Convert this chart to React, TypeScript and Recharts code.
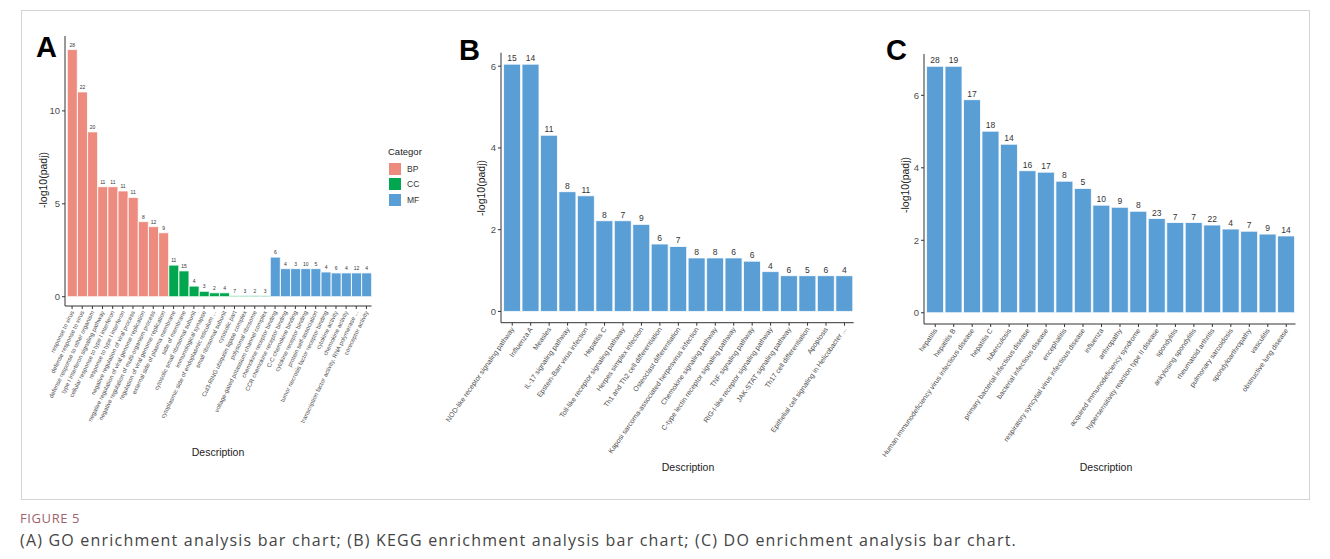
import React from "react";
import { Bar, BarChart, Cell, LabelList, XAxis, YAxis } from "recharts";

// GO terms (panel A)
const goTerms = [
  "response to virus",
  "defense response to virus",
  "defense response to other organism",
  "type I interferon signaling pathway",
  "cellular response to type I interferon",
  "response to type I interferon",
  "negative regulation of viral process",
  "negative regulation of viral genome replication",
  "negative regulation of multi-organism process",
  "regulation of viral genome replication",
  "external side of plasma membrane",
  "side of membrane",
  "cytosolic small ribosomal subunit",
  "immunological synapse",
  "cytoplasmic side of endoplasmic reticulum ...",
  "small ribosomal subunit",
  "cytosolic part",
  "Cul3-RING ubiquitin ligase complex",
  "polysomal ribosome",
  "voltage-gated potassium channel complex",
  "chemokine receptor binding",
  "CCR chemokine receptor binding",
  "C-C chemokine binding",
  "cytokine receptor binding",
  "protein self-association",
  "tumor necrosis factor receptor binding",
  "cytokine activity",
  "chemokine activity",
  "transcription factor activity, RNA polymerase ...",
  "coreceptor activity"
];
const goValues = [
  13.3, 11.02, 8.87, 5.92, 5.92, 5.69, 5.34, 4.04, 3.77, 3.44,
  1.7, 1.39, 0.57, 0.29, 0.21, 0.21, 0.06, 0.06, 0.06, 0.06,
  2.13, 1.51, 1.51, 1.51, 1.51, 1.33, 1.28, 1.28, 1.28, 1.28
];
const goCounts = [
  28, 22, 20, 11, 11, 11, 11, 8, 12, 9,
  11, 15, 4, 3, 2, 4, 7, 3, 2, 3,
  6, 4, 3, 10, 5, 4, 6, 4, 12, 4
];
const goCats = [
  "BP", "BP", "BP", "BP", "BP", "BP", "BP", "BP", "BP", "BP",
  "CC", "CC", "CC", "CC", "CC", "CC", "CC", "CC", "CC", "CC",
  "MF", "MF", "MF", "MF", "MF", "MF", "MF", "MF", "MF", "MF"
];
const goTicks = [0, 5, 10];

// KEGG pathways (panel B)
const keggTerms = [
  "NOD-like receptor signaling pathway",
  "Influenza A",
  "Measles",
  "IL-17 signaling pathway",
  "Epstein-Barr virus infection",
  "Hepatitis C",
  "Toll-like receptor signaling pathway",
  "Herpes simplex infection",
  "Th1 and Th2 cell differentiation",
  "Osteoclast differentiation",
  "Kaposi sarcoma-associated herpesvirus infection",
  "Chemokine signaling pathway",
  "C-type lectin receptor signaling pathway",
  "TNF signaling pathway",
  "RIG-I-like receptor signaling pathway",
  "JAK-STAT signaling pathway",
  "Th17 cell differentiation",
  "Apoptosis",
  "Epithelial cell signaling in Helicobacter ..."
];
const keggValues = [
  6.05, 6.05, 4.31, 2.93, 2.83, 2.22, 2.22, 2.13, 1.65, 1.59,
  1.31, 1.31, 1.31, 1.23, 0.975, 0.875, 0.875, 0.875, 0.875
];
const keggCounts = [15, 14, 11, 8, 11, 8, 7, 9, 6, 7, 8, 8, 6, 6, 4, 6, 5, 6, 4];
const keggTicks = [0, 2, 4, 6];

// DO terms (panel C)
const doTerms = [
  "hepatitis",
  "hepatitis B",
  "Human immunodeficiency virus infectious disease",
  "hepatitis C",
  "tuberculosis",
  "primary bacterial infectious disease",
  "bacterial infectious disease",
  "encephalitis",
  "respiratory syncytial virus infectious disease",
  "influenza",
  "arthropathy",
  "acquired immunodeficiency syndrome",
  "hypersensitivity reaction type II disease",
  "spondylitis",
  "ankylosing spondylitis",
  "rheumatoid arthritis",
  "pulmonary sarcoidosis",
  "spondyloarthropathy",
  "vasculitis",
  "obstructive lung disease"
];
const doValues = [
  6.8, 6.8, 5.88, 5.01, 4.65, 3.92, 3.88, 3.63, 3.43, 2.97,
  2.91, 2.8, 2.6, 2.49, 2.49, 2.42, 2.31, 2.25, 2.17, 2.12
];
const doCounts = [28, 19, 17, 18, 14, 16, 17, 8, 5, 10, 9, 8, 23, 7, 7, 22, 4, 7, 9, 14];
const doTicks = [0, 2, 4, 6];

const catColors: Record<string, string> = { BP: "#EE8B7F", CC: "#00A74E", MF: "#5A9ED6" };
const BLUE = "#5A9ED6";
const FONT = "'Liberation Sans', Arial, sans-serif";

const goData = goTerms.map((name, i) => ({ name, value: goValues[i], count: goCounts[i], cat: goCats[i] }));
const keggData = keggTerms.map((name, i) => ({ name, value: keggValues[i], count: keggCounts[i] }));
const doData = doTerms.map((name, i) => ({ name, value: doValues[i], count: doCounts[i] }));

function AngledTick(props: any) {
  const { x, y, payload, angle, fontSize } = props;
  return (
    <g transform={`translate(${x},${y})`}>
      <text
        x={0}
        y={0}
        dy={fontSize * 0.4}
        textAnchor="end"
        transform={`rotate(${angle})`}
        fontSize={fontSize}
        fill="#4d4d4d"
        fontFamily={FONT}
      >
        {payload.value}
      </text>
    </g>
  );
}

function Panel({
  data,
  width,
  height,
  margin,
  yWidth,
  domain,
  ticks,
  angle,
  tickFont,
  labelFont,
  colored
}: {
  data: any[];
  width: number;
  height: number;
  margin: { top: number; right: number; bottom: number; left: number };
  yWidth: number;
  domain: [number, number];
  ticks: number[];
  angle: number;
  tickFont: number;
  labelFont: number;
  colored?: boolean;
}) {
  return (
    <BarChart width={width} height={height} data={data} margin={margin} barCategoryGap="3%">
      <XAxis
        dataKey="name"
        interval={0}
        height={height - margin.top - margin.bottom - 270}
        padding={{ left: 2, right: 0 }}
        axisLine={{ stroke: "#333", strokeWidth: 1 }}
        tickLine={{ stroke: "#333" }}
        tickSize={3}
        tick={<AngledTick angle={angle} fontSize={tickFont} />}
      />
      <YAxis
        width={yWidth}
        type="number"
        domain={domain}
        ticks={ticks}
        allowDataOverflow
        axisLine={{ stroke: "#333", strokeWidth: 1 }}
        tickLine={{ stroke: "#333" }}
        tickSize={3}
        tickMargin={2}
        tick={{ fontSize: 9.5, fill: "#4d4d4d", fontFamily: FONT }}
      />
      <Bar dataKey="value" stroke="#ffffff" strokeWidth={0.8} isAnimationActive={false} fill={BLUE}>
        {data.map((d, i) => (
          <Cell key={i} fill={colored ? catColors[d.cat] : BLUE} />
        ))}
        <LabelList
          dataKey="count"
          position="top"
          offset={3}
          style={{ fontSize: labelFont, fill: "#333", fontFamily: FONT }}
        />
      </Bar>
    </BarChart>
  );
}

const abs = (left: number, top: number): React.CSSProperties => ({ position: "absolute", left, top });

function YTitle({ x, y }: { x: number; y: number }) {
  return (
    <div
      style={{
        ...abs(x - 50, y - 7),
        width: 100,
        textAlign: "center",
        transform: "rotate(-90deg)",
        fontSize: 10.5,
        color: "#222",
        fontFamily: FONT,
        lineHeight: "14px"
      }}
    >
      -log10(padj)
    </div>
  );
}

function XTitle({ x, y }: { x: number; y: number }) {
  return (
    <div
      style={{
        ...abs(x - 50, y - 7),
        width: 100,
        textAlign: "center",
        fontSize: 10.5,
        color: "#222",
        fontFamily: FONT,
        lineHeight: "14px"
      }}
    >
      Description
    </div>
  );
}

function Letter({ x, y, text }: { x: number; y: number; text: string }) {
  return (
    <div style={{ ...abs(x, y), fontSize: 29, fontWeight: 700, fontFamily: FONT, lineHeight: "30px", color: "#000" }}>
      {text}
    </div>
  );
}

export default function App() {
  return (
    <div style={{ position: "absolute", left: 0, top: 0, width: 1330, height: 559, background: "#fff", overflow: "hidden" }}>
      <div style={{ ...abs(21, 10), width: 1289, height: 490, border: "1px solid #d4d4d4", boxSizing: "border-box" }} />

      <div style={abs(0, 0)}>
        <Panel
          data={goData}
          width={380}
          height={480}
          margin={{ top: 36, right: 8.5, bottom: 5, left: 40 }}
          yWidth={25}
          domain={[-0.5, 14.03]}
          ticks={goTicks}
          angle={-64}
          tickFont={6}
          labelFont={5}
          colored
        />
      </div>
      <div style={abs(430, 0)}>
        <Panel
          data={keggData}
          width={440}
          height={480}
          margin={{ top: 52.7, right: 16.3, bottom: 5, left: 45 }}
          yWidth={26}
          domain={[-0.275, 6.33]}
          ticks={keggTicks}
          angle={-55}
          tickFont={7}
          labelFont={8.5}
        />
      </div>
      <div style={abs(860, 0)}>
        <Panel
          data={doData}
          width={450}
          height={480}
          margin={{ top: 54, right: 14.5, bottom: 5, left: 38 }}
          yWidth={26}
          domain={[-0.31, 7.14]}
          ticks={doTicks}
          angle={-55}
          tickFont={7}
          labelFont={8.5}
        />
      </div>

      <Letter x={36} y={32} text="A" />
      <Letter x={459} y={35} text="B" />
      <Letter x={886} y={35} text="C" />

      <YTitle x={43} y={180} />
      <YTitle x={481} y={188} />
      <YTitle x={905} y={185} />
      <XTitle x={218} y={452} />
      <XTitle x={688} y={467} />
      <XTitle x={1106} y={467} />

      <div style={{ ...abs(388, 145), fontFamily: FONT, color: "#222" }}>
        <div style={{ fontSize: 9.5, lineHeight: "13px", marginBottom: 3 }}>Categor</div>
        {["BP", "CC", "MF"].map((c) => (
          <div key={c} style={{ display: "flex", alignItems: "center", height: 15.5 }}>
            <div style={{ width: 14, height: 14, background: catColors[c], border: "1px solid #fff", boxSizing: "border-box" }} />
            <span style={{ fontSize: 8.5, marginLeft: 5, color: "#333" }}>{c}</span>
          </div>
        ))}
      </div>

      <div
        style={{
          ...abs(20, 509),
          fontFamily: "'Open Sans', sans-serif",
          fontSize: 13,
          color: "#a0646d",
          letterSpacing: 0.6
        }}
      >
        FIGURE 5
      </div>
      <div
        style={{
          ...abs(20, 529),
          fontFamily: "'Open Sans', sans-serif",
          fontSize: 16,
          color: "#444",
          letterSpacing: 1.2,
          whiteSpace: "nowrap"
        }}
      >
        (A) GO enrichment analysis bar chart; (B) KEGG enrichment analysis bar chart; (C) DO enrichment analysis bar chart.
      </div>
    </div>
  );
}
